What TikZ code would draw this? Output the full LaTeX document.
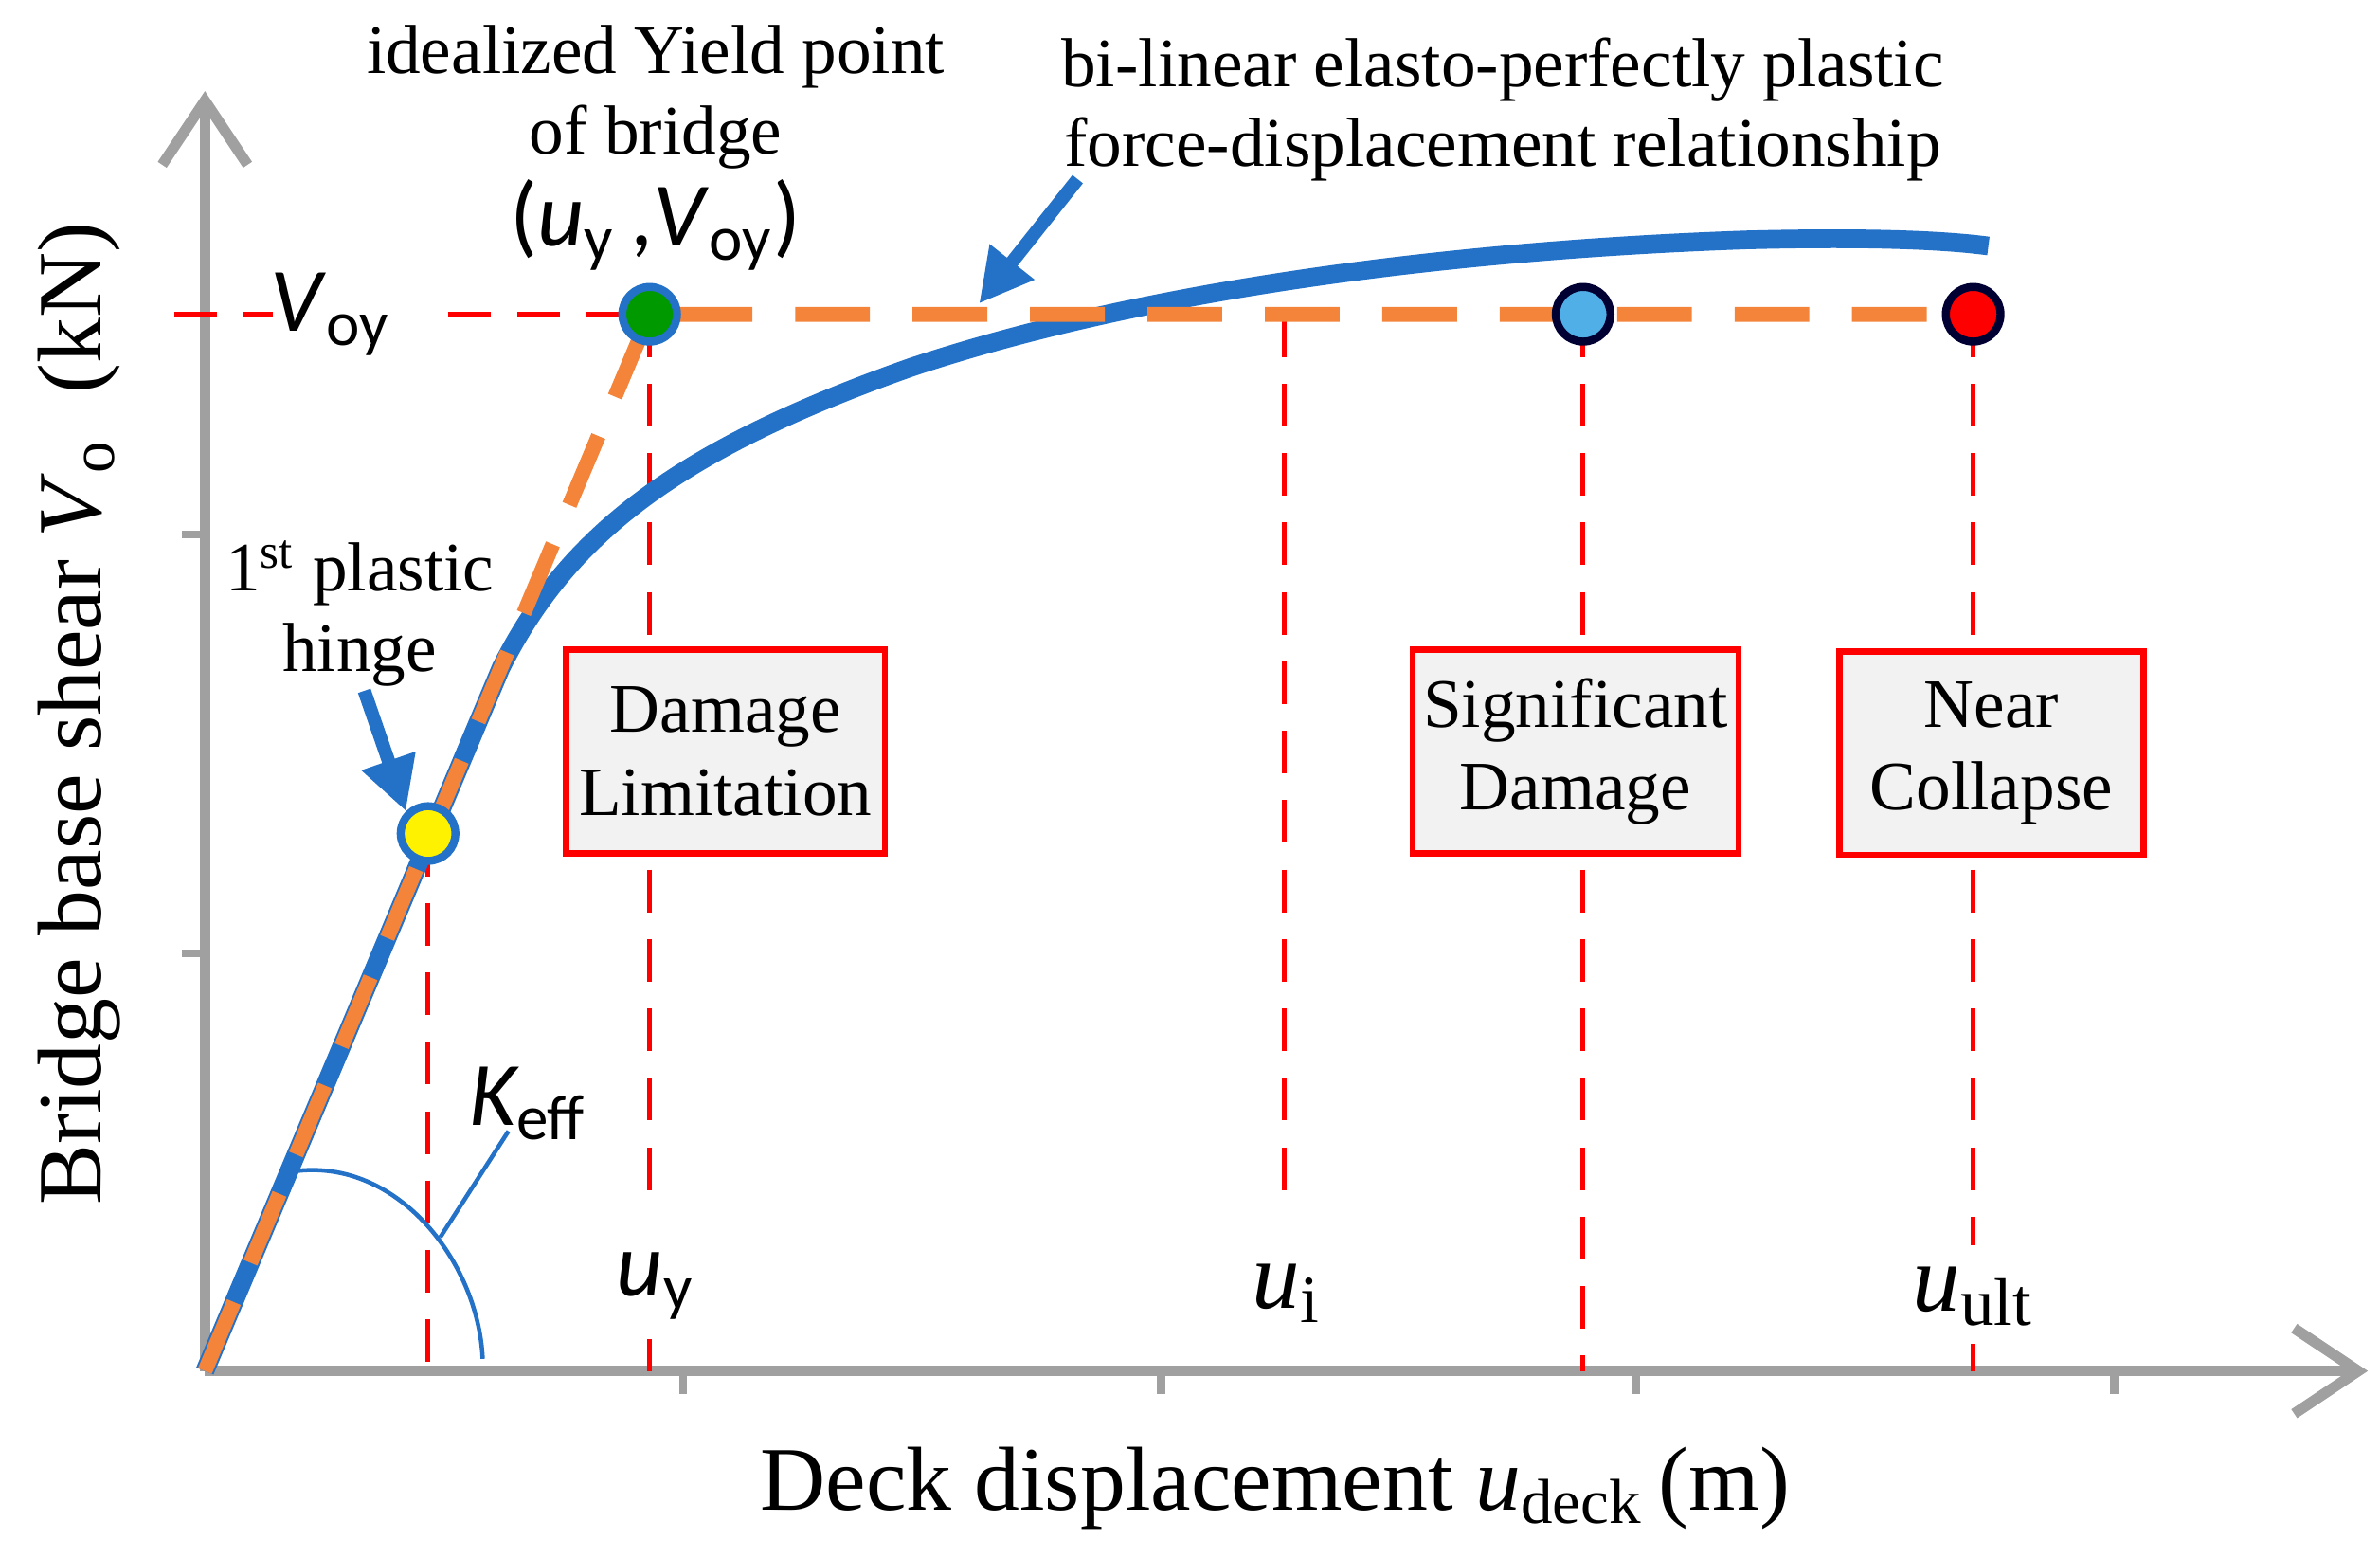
\documentclass[tikz,border=0pt]{standalone}
\usepackage{fontspec}
\setmainfont{Liberation Serif}
\newfontfamily\calfont{Carlito}
\usetikzlibrary{arrows.meta}
\definecolor{axg}{HTML}{A0A0A0}
\definecolor{cblue}{HTML}{2472C8}
\definecolor{corange}{HTML}{F4843A}
\definecolor{boxfill}{HTML}{F2F2F2}
\begin{document}
\begin{tikzpicture}[x=0.01cm,y=-0.01cm,
  rd/.style={red,dashed,line width=0.9pt,dash pattern=on 8pt off 5pt},
  box/.style={draw=red,fill=boxfill,line width=1.2pt,minimum width=2.1cm,minimum height=1.34cm,align=center,font=\fontsize{13}{15.5}\selectfont,inner sep=2pt},
  pt/.style={circle,draw=black!80!blue,line width=1.5pt,minimum size=0.36cm,inner sep=0},
  lab/.style={font=\fontsize{13}{15}\selectfont,align=center},
  arr/.style={cblue,line width=2.5pt,-{Triangle[length=10pt,width=10pt]}}]
\useasboundingbox (0,0) rectangle (1568,1026);
% axes
\coordinate (O) at (135,903);
\coordinate (yt) at (135,60);
\coordinate (xt) at (1560,903);
\draw[axg,line width=2pt,-{Straight Barb[length=12pt,width=16pt]}] (O) -- (yt);
\draw[axg,line width=2pt,-{Straight Barb[length=12pt,width=16pt]}] (O) -- (xt);
\foreach \x in {450,765,1078,1393} \draw[axg,line width=1.5pt] (\x,903) -- (\x,918);
\foreach \y in {352,628} \draw[axg,line width=1.5pt] (120,\y) -- (135,\y);
% red dashed
\draw[rd] (115,207) -- (180,207);
\draw[rd] (295,207) -- (420,207);
\draw[rd] (282,549) -- (282,903);
\draw[rd] (428,207) -- (428,785);
\draw[rd] (428,882) -- (428,903);
\draw[rd] (846,207) -- (846,790);
\draw[rd] (1043,207) -- (1043,903);
\draw[rd] (1300,207) -- (1300,820);
\draw[rd] (1300,885) -- (1300,903);
% curves
\draw[cblue,line width=3.5pt] (O) -- (330,440) .. controls (375,350) and (450,295) .. (600,242)
  .. controls (750,192) and (950,165) .. (1150,158) .. controls (1230,156) and (1280,158) .. (1310,162);
\draw[corange,line width=2.8pt,dash pattern=on 14pt off 8pt] (O) -- (428,207) -- (1300,207);
% Keff arc
\draw[cblue,line width=0.8pt] (190,772) .. controls (260,760) and (315,830) .. (318,895);
\draw[cblue,line width=0.8pt] (290,815) -- (335,745);
\node[font=\calfont\itshape\fontsize{17}{18}\selectfont] (keff) at (348,727) {K\textsubscript{\upshape eff}};
% points
\node[pt,fill=yellow,draw=cblue] (p1) at (282,549) {};
\node[pt,fill=green!60!black,draw=cblue] (p2) at (428,207) {};
\node[pt,fill=cyan!80!blue!70] (p3) at (1043,207) {};
\node[pt,fill=red] (p4) at (1300,207) {};
% boxes
\node[box] (b1) at (478,495) {Damage\\Limitation};
\node[box] (b2) at (1038,495) {Significant\\Damage};
\node[box,minimum width=2cm] (b3) at (1312,496) {Near\\Collapse};
% texts
\node[lab] (t1) at (432,64) {idealized Yield point\\of bridge};
\node[font=\calfont\fontsize{17}{20}\selectfont] (t2) at (432,148) {(\textit{u}\textsubscript{y}\,,\textit{V}\textsubscript{oy})};
\node[lab] (t3) at (990,72) {bi-linear elasto-perfectly plastic\\force-displacement relationship};
\node[lab] (t4) at (237,404) {1\textsuperscript{st} plastic\\hinge};
\node[font=\calfont\fontsize{17}{20}\selectfont] (vo) at (218,207) {\textit{V}\textsubscript{oy}};
\node[font=\calfont\fontsize{17}{20}\selectfont] (uy) at (432,847) {\textit{u}\textsubscript{y}};
\node[font=\fontsize{18}{20}\selectfont] (ui) at (848,852) {\textit{u}\textsubscript{i}};
\node[font=\fontsize{18}{20}\selectfont] (uu) at (1300,854) {\textit{u}\textsubscript{ult}};
\node[font=\fontsize{17}{20}\selectfont,rotate=90] (yl) at (52,470) {Bridge base shear \textit{V}\textsubscript{o} \ (kN)};
\node[font=\fontsize{17}{20}\selectfont] (xl) at (840,980) {Deck displacement \textit{u}\textsubscript{deck}\,(m)};
% arrows
\coordinate (a1) at (240,455);
\coordinate (a2) at (710,118);
\coordinate (a2e) at (645,200);
\draw[arr] (a1) -- (p1.north west);
\draw[arr] (a2) -- (a2e);
\end{tikzpicture}
\end{document}
